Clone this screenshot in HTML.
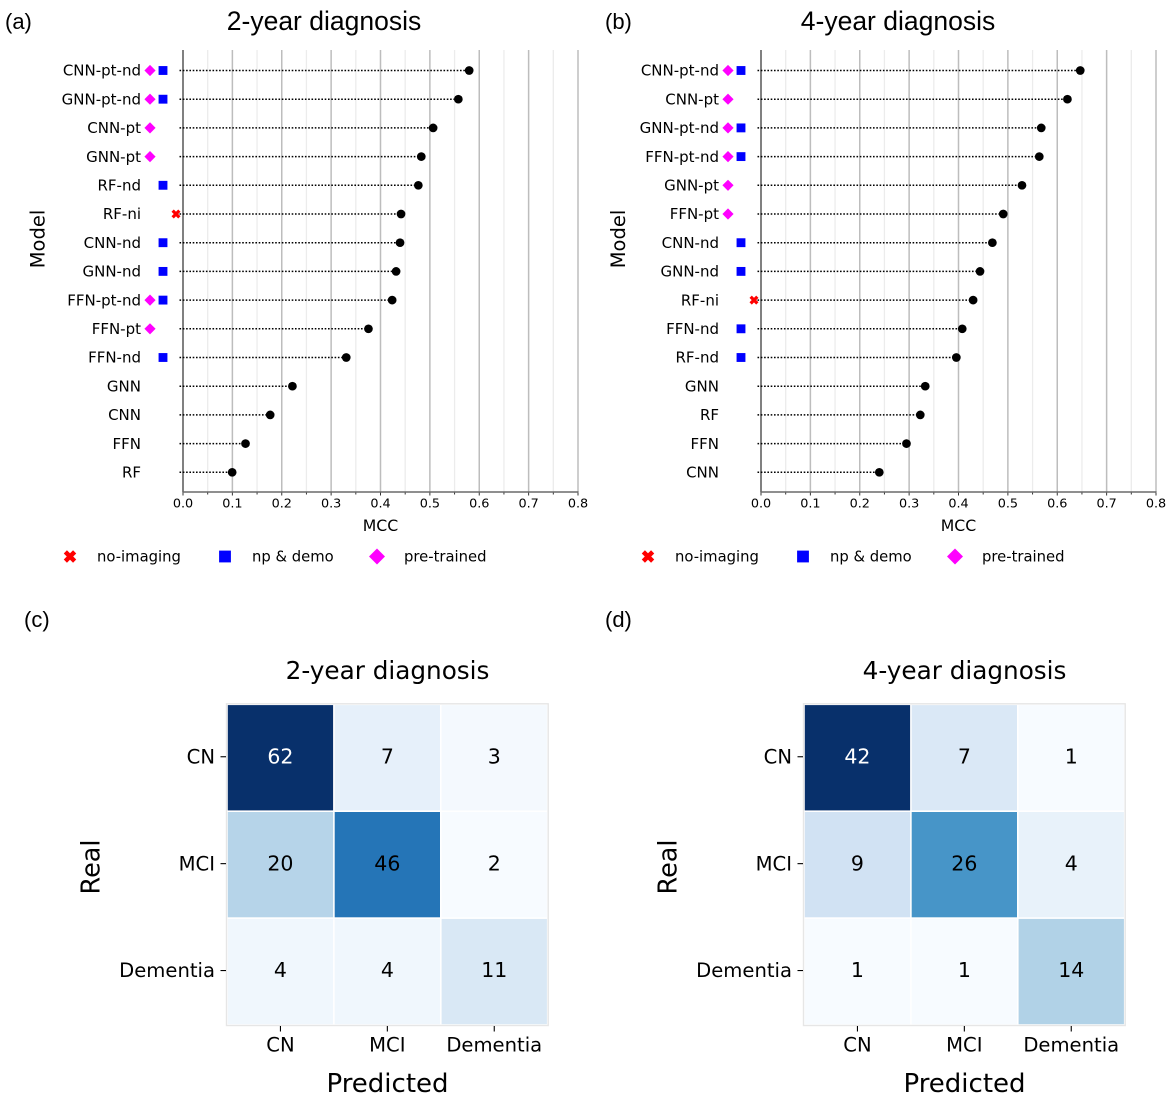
<!DOCTYPE html>
<html lang="en">
<head>
<meta charset="utf-8">
<title>MCC by model and confusion matrices</title>
<style>
html,body{margin:0;padding:0;background:#fff;}
svg{display:block;}
text{fill:#000;font-family:"DejaVu Sans",sans-serif;}
.helv{font-family:"Liberation Sans",sans-serif;}
</style>
</head>
<body>
<svg id="figure" xmlns="http://www.w3.org/2000/svg" width="1169" height="1097" viewBox="0 0 1169 1097">
<rect x="0" y="0" width="1169" height="1097" fill="#fff"/>
</svg>
<script>
// Panel (a): 2-year MCC
const modelsA = ["CNN-pt-nd","GNN-pt-nd","CNN-pt","GNN-pt","RF-nd","RF-ni","CNN-nd","GNN-nd","FFN-pt-nd","FFN-pt","FFN-nd","GNN","CNN","FFN","RF"];
const mccA = [0.579,0.557,0.506,0.482,0.476,0.441,0.439,0.431,0.423,0.375,0.330,0.221,0.176,0.126,0.099];
// Panel (b): 4-year MCC
const modelsB = ["CNN-pt-nd","CNN-pt","GNN-pt-nd","FFN-pt-nd","GNN-pt","FFN-pt","CNN-nd","GNN-nd","RF-ni","FFN-nd","RF-nd","GNN","RF","FFN","CNN"];
const mccB = [0.646,0.620,0.567,0.563,0.528,0.490,0.468,0.443,0.429,0.407,0.395,0.332,0.322,0.294,0.239];
// Axis ticks
const mccTicks = [0.0,0.1,0.2,0.3,0.4,0.5,0.6,0.7,0.8];
const mccMinorTicks = [0.05,0.15,0.25,0.35,0.45,0.55,0.65,0.75];
// Confusion matrices
const classes = ["CN","MCI","Dementia"];
const matrixC = [[62,7,3],[20,46,2],[4,4,11]];
const matrixD = [[42,7,1],[9,26,4],[1,1,14]];
const blues = ["#f7fbff","#deebf7","#c6dbef","#9ecae1","#6baed6","#4292c6","#2171b5","#08519c","#08306b"];

const NS = "http://www.w3.org/2000/svg";
const fig = document.getElementById("figure");

function mk(tag, attrs, parent, txt){
  const el = document.createElementNS(NS, tag);
  for (const k in attrs) el.setAttribute(k, attrs[k]);
  if (txt !== undefined) el.textContent = txt;
  (parent || fig).appendChild(el);
  return el;
}
function slug(s){ return String(s).toLowerCase().replace(/[^a-z0-9]+/g,"-").replace(/^-|-$/g,""); }

function blueColor(t){
  const p = Math.max(0,Math.min(1,t))*(blues.length-1);
  const i = Math.min(Math.floor(p),blues.length-2), f = p-i;
  const c = h => [1,3,5].map(j=>parseInt(h.substr(j,2),16));
  const a = c(blues[i]), b = c(blues[i+1]);
  return "rgb("+a.map((v,j)=>Math.round(v+(b[j]-v)*f)).join(",")+")";
}

function drawMarker(kind, cx, cy, s, parent){
  let el;
  if (kind === "pt") {
    el = mk("polygon",{points:(cx-s)+","+cy+" "+cx+","+(cy-s)+" "+(cx+s)+","+cy+" "+cx+","+(cy+s),fill:"#ff00ff"},parent);
  } else if (kind === "nd") {
    const h = s*0.82;
    el = mk("rect",{x:cx-h,y:cy-h,width:2*h,height:2*h,fill:"#0000ff"},parent);
  } else {
    const h = s*0.62;
    el = mk("path",{d:"M"+(cx-h)+" "+(cy-h)+"L"+(cx+h)+" "+(cy+h)+"M"+(cx+h)+" "+(cy-h)+"L"+(cx-h)+" "+(cy+h),stroke:"#ff0000","stroke-width":s*0.6,fill:"none"},parent);
  }
  return el;
}

function drawLollipop(cfg, models, values){
  const g = mk("g",{});
  
  
  const x0 = cfg.x0, top = 50, bottom = 492;
  const xScale = v => x0 + v*(395/0.8);
  const yScale = i => 70.5 + i*28.7;

  mccMinorTicks.forEach(t=>{
    const ln = mk("line",{x1:xScale(t),x2:xScale(t),y1:top,y2:bottom,stroke:"#ececec","stroke-width":1.3},g);
    
    
    const tk = mk("line",{x1:xScale(t),x2:xScale(t),y1:bottom,y2:bottom+2.5,stroke:"#333","stroke-width":1},g);
    
    
  });
  mccTicks.forEach(t=>{
    if (t > 0) {
      const ln = mk("line",{x1:xScale(t),x2:xScale(t),y1:top,y2:bottom,stroke:"#bdbdbd","stroke-width":1.5},g);
      
      
    }
    const tk = mk("line",{x1:xScale(t),x2:xScale(t),y1:bottom,y2:bottom+3.5,stroke:"#333","stroke-width":1},g);
    
    
    const lb = mk("text",{x:xScale(t),y:507.7,"text-anchor":"middle","font-size":"12.8"},g,t.toFixed(1));
    
    
  });
  const yAxis = mk("line",{x1:x0,x2:x0,y1:top,y2:bottom,stroke:"#808080","stroke-width":2},g);
  
  
  const xAxis = mk("line",{x1:x0,x2:xScale(0.8)+0.5,y1:bottom,y2:bottom,stroke:"#6a6a6a","stroke-width":1.6},g);
  
  

  models.forEach((m,i)=>{
    const y = yScale(i);
    const lb = mk("text",{x:x0-42,y:y+5.2,"text-anchor":"end","font-size":"15"},g,m);
    
    
    const st = mk("line",{x1:x0-3.5,x2:xScale(values[i]),y1:y,y2:y,stroke:"#000","stroke-width":1.5,"stroke-dasharray":"1.6 1.7"},g);
    
    
    const dot = mk("circle",{cx:xScale(values[i])+0.3,cy:y,r:4.35,fill:"#000"},g);
    
    
    if (m.indexOf("-pt") >= 0) {
      const d = drawMarker("pt",x0-33,y,5.6,g);
      
      
    }
    if (m.endsWith("-nd")) {
      const s = drawMarker("nd",x0-20,y,5.4,g);
      
      
    }
    if (m.endsWith("-ni")) {
      const x = drawMarker("ni",x0-7,y,5.4,g);
      
      
    }
  });

  const title = mk("text",{x:cfg.titleX,y:30,"text-anchor":"middle","font-size":"26.5",class:"helv"},g,cfg.title);
  
  
  const panel = mk("text",{x:cfg.panelX,y:29,"font-size":"22",class:"helv"},g,cfg.panel);
  
  
  const xt = mk("text",{x:xScale(0.4),y:531,"text-anchor":"middle","font-size":"15.7"},g,"MCC");
  
  
  const yt = mk("text",{x:0,y:0,"text-anchor":"middle","font-size":"19.5",transform:"translate("+cfg.modelX+",239) rotate(-90)"},g,"Model");
  
  

  const legendY = 556.5, off = x0 - 183;
  const e1 = drawMarker("ni",70+off,legendY,7.5,g);
  
  
  const t1 = mk("text",{x:97+off,y:legendY+5,"font-size":"14.8"},g,"no-imaging");
  
  
  const e2 = drawMarker("nd",225+off,legendY,7.2,g);
  
  
  const t2 = mk("text",{x:252+off,y:legendY+5,"font-size":"14.8"},g,"np & demo");
  
  
  const e3 = drawMarker("pt",377+off,legendY,8,g);
  
  
  const t3 = mk("text",{x:404+off,y:legendY+5,"font-size":"14.8"},g,"pre-trained");
  
  
}

function drawHeatmap(cfg, matrix){
  const g = mk("g",{});
  
  
  const x0 = cfg.x0, y0 = 704.3, cell = 106.9;
  const flat = matrix.reduce((a,r)=>a.concat(r),[]);
  const vmin = Math.min.apply(null,flat), vmax = Math.max.apply(null,flat);
  const colX = j => x0 + j*cell;
  const rowY = i => y0 + i*cell;

  const frame = mk("rect",{x:x0-0.5,y:y0-0.5,width:3*cell+1,height:3*cell+1,fill:"none",stroke:"#e6e6e6","stroke-width":1.4},g);
  
  

  matrix.forEach((row,i)=>row.forEach((v,j)=>{
    const t = (v-vmin)/(vmax-vmin);
    const r = mk("rect",{x:colX(j)+0.8,y:rowY(i)+0.8,width:cell-1.6,height:cell-1.6,fill:blueColor(t)},g);
    
    
    const tx = mk("text",{x:colX(j)+cell/2,y:rowY(i)+cell/2+5.6,"text-anchor":"middle","font-size":"20.5",style:"fill:"+(t>0.85?"#fff":"#000")},g,v);
    
    
  }));

  classes.forEach((c,i)=>{
    const cy = rowY(i)+cell/2, cx = colX(i)+cell/2;
    const tl = mk("line",{x1:x0-6.5,x2:x0-1,y1:cy-1,y2:cy-1,stroke:"#000","stroke-width":1.1},g);
    
    
    const lb = mk("text",{x:x0-12,y:cy+5.6,"text-anchor":"end","font-size":"19.6"},g,c);
    
    
    const tb = mk("line",{x1:cx,x2:cx,y1:y0+3*cell+1,y2:y0+3*cell+6.5,stroke:"#000","stroke-width":1.1},g);
    
    
    const lx = mk("text",{x:cx,y:1051.5,"text-anchor":"middle","font-size":"19.6"},g,c);
    
    
  });

  const title = mk("text",{x:x0+160.5,y:679,"text-anchor":"middle","font-size":"24.7"},g,cfg.title);
  
  
  const xt = mk("text",{x:x0+160.5,y:1092,"text-anchor":"middle","font-size":"26"},g,"Predicted");
  
  
  const yt = mk("text",{x:0,y:0,"text-anchor":"middle","font-size":"25.5",transform:"translate("+(x0-127.5)+",867) rotate(-90)"},g,"Real");
  
  
  const panel = mk("text",{x:cfg.panelX,y:627,"font-size":"22",class:"helv"},g,cfg.panel);
  
  
}

drawLollipop({name:"panel-a-2-year-mcc",x0:183,title:"2-year diagnosis",titleX:324,modelX:44.5,panel:"(a)",panelX:5},modelsA,mccA);
drawLollipop({name:"panel-b-4-year-mcc",x0:761,title:"4-year diagnosis",titleX:898,modelX:625,panel:"(b)",panelX:605},modelsB,mccB);
drawHeatmap({name:"panel-c-2-year-confusion-matrix",x0:227,title:"2-year diagnosis",panel:"(c)",panelX:24},matrixC);
drawHeatmap({name:"panel-d-4-year-confusion-matrix",x0:804,title:"4-year diagnosis",panel:"(d)",panelX:605},matrixD);
</script>
</body>
</html>
